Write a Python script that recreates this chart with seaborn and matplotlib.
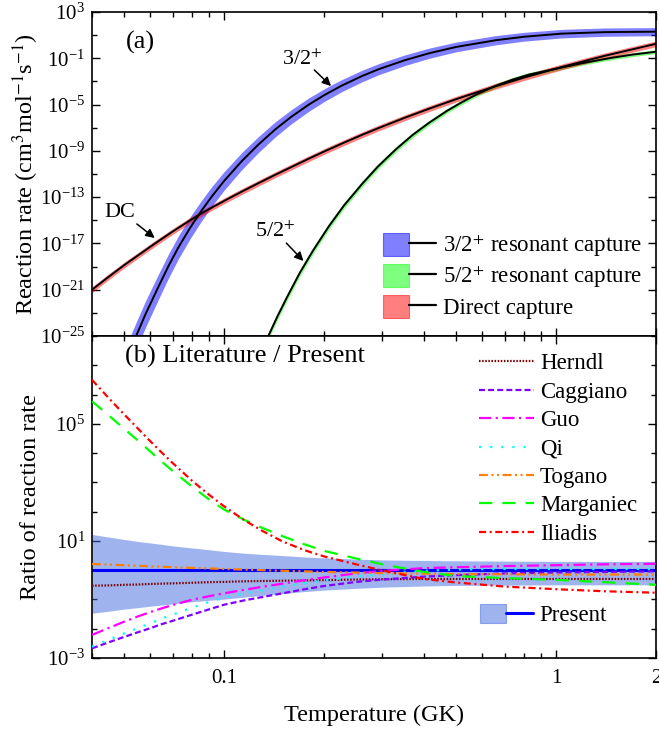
import numpy as np
import pandas as pd
import matplotlib
matplotlib.use("Agg")
import matplotlib.pyplot as plt
import seaborn as sns
from matplotlib.patches import Patch
from matplotlib.lines import Line2D
from matplotlib.legend_handler import HandlerTuple
from matplotlib.ticker import FixedLocator, FuncFormatter, LogLocator, NullFormatter

# ---------------- panel (a): log10 reaction rates ----------------
T_res32 = [0.052, 0.0546, 0.058, 0.0634, 0.068, 0.0728, 0.079, 0.0856, 0.092, 0.1, 0.113, 0.1267,
           0.1425, 0.1596, 0.18, 0.201, 0.2255, 0.26, 0.293, 0.35, 0.414, 0.5, 0.658, 0.8, 1.04, 1.4, 2.0]
log_res32 = [-26.3, -24.85, -23.1, -20.75, -18.95, -17.35, -15.65, -14.15, -12.91, -11.6, -9.89, -8.47,
             -7.15, -6.04, -5.0, -4.16, -3.38, -2.54, -1.93, -1.17, -0.57, -0.02, 0.56, 0.86, 1.13, 1.26, 1.3]
err_res32 = [1.2, 1.18, 1.14, 1.09, 1.04, 0.99, 0.94, 0.89, 0.85, 0.8, 0.74, 0.69,
             0.65, 0.61, 0.58, 0.55, 0.52, 0.5, 0.48, 0.46, 0.44, 0.42, 0.4, 0.38, 0.37, 0.36, 0.35]

T_res52 = [0.13, 0.1359, 0.145, 0.155, 0.169, 0.185, 0.207, 0.23, 0.26, 0.29, 0.33, 0.37, 0.414,
           0.47, 0.52, 0.58, 0.658, 0.74, 0.826, 0.93, 1.04, 1.2, 1.47, 1.7, 2.0]
log_res52 = [-26.3, -25.0, -23.26, -21.6, -19.55, -17.65, -15.5, -13.7, -11.88, -10.38, -8.84, -7.62, -6.58,
             -5.53, -4.8, -4.08, -3.38, -2.84, -2.42, -2.1, -1.8, -1.42, -0.96, -0.68, -0.43]
err_res52 = [0.3, 0.3, 0.3, 0.3, 0.29, 0.28, 0.27, 0.26, 0.25, 0.24, 0.23, 0.22, 0.21,
             0.2, 0.2, 0.19, 0.19, 0.18, 0.18, 0.18, 0.17, 0.17, 0.17, 0.17, 0.17]

T_dc = [0.04, 0.045, 0.0503, 0.056, 0.062, 0.07, 0.0785, 0.0856, 0.095, 0.105, 0.115, 0.1267, 0.1425,
        0.1596, 0.18, 0.2, 0.2255, 0.26, 0.293, 0.35, 0.414, 0.5, 0.658, 0.8, 1.04, 1.4, 2.0]
log_dc = [-21.0, -19.86, -18.82, -17.88, -16.99, -15.97, -15.05, -14.39, -13.67, -13.0, -12.41, -11.8, -11.07,
          -10.39, -9.67, -9.06, -8.39, -7.62, -7.01, -6.14, -5.36, -4.53, -3.41, -2.67, -1.75, -0.79, 0.25]
err_dc = [0.25, 0.25, 0.25, 0.25, 0.25, 0.25, 0.25, 0.25, 0.25, 0.25, 0.25, 0.25, 0.25,
          0.25, 0.25, 0.25, 0.25, 0.25, 0.25, 0.25, 0.25, 0.25, 0.25, 0.25, 0.25, 0.25, 0.25]

labels_a = ["3/2$^{+}$ resonant capture", "5/2$^{+}$ resonant capture", "Direct capture"]

# ---------------- panel (b): log10 ratio literature / present ----------------
T_ratio = [0.04, 0.045, 0.05, 0.055, 0.06, 0.065, 0.07, 0.08, 0.09, 0.1, 0.115, 0.13, 0.15, 0.175,
           0.2, 0.25, 0.3, 0.4, 0.5, 0.7, 1.0, 1.4, 2.0]
log_herndl = [-0.53, -0.52, -0.5, -0.49, -0.47, -0.46, -0.45, -0.43, -0.41, -0.4, -0.38, -0.37, -0.36, -0.35,
              -0.34, -0.32, -0.31, -0.3, -0.3, -0.3, -0.3, -0.3, -0.3]
log_caggiano = [-2.67, -2.46, -2.28, -2.12, -1.98, -1.84, -1.73, -1.52, -1.34, -1.18, -1.03, -0.92, -0.79, -0.65,
                -0.54, -0.4, -0.32, -0.22, -0.17, -0.11, -0.08, -0.06, -0.04]
log_guo = [-2.21, -1.97, -1.76, -1.58, -1.43, -1.3, -1.19, -1.01, -0.89, -0.79, -0.67, -0.57, -0.46, -0.34,
           -0.25, -0.11, -0.02, 0.07, 0.1, 0.14, 0.17, 0.2, 0.22]
log_qi = [-2.61, -2.37, -2.16, -1.98, -1.81, -1.65, -1.52, -1.28, -1.09, -0.94, -0.79, -0.69, -0.56, -0.44,
          -0.35, -0.22, -0.13, -0.02, 0.02, 0.04, 0.04, 0.04, 0.04]
log_togano = [0.21, 0.19, 0.17, 0.15, 0.13, 0.12, 0.1, 0.08, 0.06, 0.04, 0.02, 0.0, -0.02, -0.04,
              -0.06, -0.08, -0.1, -0.12, -0.13, -0.14, -0.15, -0.15, -0.15]
log_marganiec = [5.77, 5.28, 4.83, 4.43, 4.05, 3.7, 3.39, 2.86, 2.42, 2.07, 1.72, 1.45, 1.16, 0.88,
                 0.66, 0.4, 0.2, -0.06, -0.2, -0.27, -0.33, -0.41, -0.5]
log_iliadis = [6.5, 5.87, 5.32, 4.84, 4.4, 4.01, 3.66, 3.06, 2.58, 2.18, 1.71, 1.35, 0.98, 0.68,
               0.47, 0.2, -0.01, -0.3, -0.42, -0.56, -0.65, -0.72, -0.77]
log_present = [0.0] * 23
log_present_hi = [1.22, 1.13, 1.05, 0.98, 0.93, 0.88, 0.83, 0.76, 0.7, 0.64, 0.58, 0.54, 0.5, 0.45,
                  0.42, 0.38, 0.35, 0.33, 0.32, 0.31, 0.3, 0.3, 0.3]
log_present_lo = [-1.47, -1.4, -1.33, -1.28, -1.23, -1.19, -1.15, -1.08, -1.03, -0.99, -0.92, -0.86, -0.8, -0.73,
                  -0.68, -0.62, -0.58, -0.54, -0.52, -0.51, -0.5, -0.5, -0.5]

lit_names = ["Herndl", "Caggiano", "Guo", "Qi", "Togano", "Marganiec", "Iliadis"]
lit_values = [log_herndl, log_caggiano, log_guo, log_qi, log_togano, log_marganiec, log_iliadis]

# ---------------- styling ----------------
sns.set_theme(style="ticks")
plt.rcParams["font.family"] = ["Liberation Serif", "DejaVu Serif"]
plt.rcParams["mathtext.fontset"] = "stix"
for k in ["text.color", "axes.labelcolor", "xtick.color", "ytick.color", "axes.edgecolor"]:
    plt.rcParams[k] = "black"
plt.rcParams["axes.linewidth"] = 1.2

lit_colors = ["#800000", "#8000FF", "#FF00FF", "#00FFFF", "#FF8000", "#00FF00", "#FF0000"]
lit_dashes = [(0.7, 0.7), (2.7, 1.4), (5.5, 2.0, 1.0, 2.0), (1.0, 4.0),
              (4.0, 1.6, 0.9, 1.6, 0.9, 1.6), (6.0, 4.5), (3.2, 1.6, 0.9, 1.6)]
band_colors = ["#0000FF", "#00FF00", "#FF0000"]

W, H = 659, 736
fig = plt.figure(figsize=(W / 100, H / 100), dpi=100)
ax1 = fig.add_axes([92 / W, 400 / H, 564 / W, 324 / H])
ax2 = fig.add_axes([92 / W, 78 / H, 564 / W, 322 / H], sharex=ax1)

for ax in (ax1, ax2):
    ax.set_xscale("log")
    ax.set_yscale("log")

# ---- panel (a) ----
series_a = [(T_res32, log_res32, err_res32), (T_res52, log_res52, err_res52), (T_dc, log_dc, err_dc)]
for (T, lv, e), c in zip(series_a, band_colors):
    T = np.asarray(T); lv = np.asarray(lv); e = np.asarray(e)
    ax1.fill_between(T, 10 ** (lv - e), 10 ** (lv + e), color=c, alpha=0.5, lw=0, zorder=1)
for (T, lv, e) in series_a:
    df = pd.DataFrame({"T": T, "rate": 10 ** np.asarray(lv)})
    sns.lineplot(data=df, x="T", y="rate", color="black", lw=1.4, ax=ax1, sort=False,
                 estimator=None, legend=False, zorder=3)

ax1.set_xlim(0.04, 2)
ax1.set_ylim(1e-25, 1e3)

handles_a = []
for c in band_colors:
    handles_a.append((Patch(facecolor=c, alpha=0.5, edgecolor=c, lw=0.8),
                      Line2D([], [], color="black", lw=1.6)))
ax1.legend(handles_a, labels_a, handler_map={tuple: HandlerTuple(ndivide=None)},
           loc="upper left", bbox_to_anchor=(0.516, 0.318), frameon=False, fontsize=16.5,
           handlelength=2.3, handleheight=1.15, handletextpad=0.3, labelspacing=0.22,
           borderpad=0, borderaxespad=0)

arrow_kw = dict(arrowstyle="-|>", color="black", lw=1.1, mutation_scale=13, shrinkA=0, shrinkB=0)
ax1.text(0.172, 10 ** -1.15, "3/2$^{+}$", fontsize=16, ha="center", va="center")
ax1.annotate("", xy=(0.210, 10 ** -3.40), xytext=(0.187, 10 ** -2.01), arrowprops=arrow_kw)
ax1.text(0.0486, 10 ** -14.37, "DC", fontsize=16, ha="center", va="center")
ax1.annotate("", xy=(0.0618, 10 ** -16.53), xytext=(0.0546, 10 ** -15.32), arrowprops=arrow_kw)
ax1.text(0.143, 10 ** -16.0, "5/2$^{+}$", fontsize=16, ha="center", va="center")
ax1.annotate("", xy=(0.1734, 10 ** -18.52), xytext=(0.154, 10 ** -16.97), arrowprops=arrow_kw)
ax1.text(0.085, 0.907, "(a)", transform=ax1.transAxes, fontsize=19, ha="center", va="center")

# ---- panel (b) ----
Tr = np.asarray(T_ratio)
ax2.fill_between(Tr, 10 ** np.asarray(log_present_lo), 10 ** np.asarray(log_present_hi),
                 color="royalblue", alpha=0.5, lw=0, zorder=1)
sns.lineplot(x=Tr, y=10 ** np.asarray(log_present), color="blue", lw=2.2, ax=ax2,
             estimator=None, legend=False, zorder=2)
lit_lines = []
for name, vals, c, d in zip(lit_names, lit_values, lit_colors, lit_dashes):
    df = pd.DataFrame({"T": Tr, "ratio": 10 ** np.asarray(vals)})
    sns.lineplot(data=df, x="T", y="ratio", color=c, lw=1.6, ax=ax2, sort=False,
                 estimator=None, legend=False, zorder=3)
    ln = ax2.lines[-1]
    ln.set_linestyle((0, d))
    ln.set_label(name)
    lit_lines.append(ln)

ax2.set_xlim(0.04, 2)
ax2.set_ylim(1e-3, 1e8)

leg_b = ax2.legend(lit_lines, lit_names, loc="upper left", bbox_to_anchor=(0.686, 0.946),
                   frameon=False, fontsize=16.5, handlelength=2.4, handletextpad=0.26,
                   labelspacing=0.32, borderpad=0, borderaxespad=0)
ax2.add_artist(leg_b)
present_handle = (Patch(facecolor="royalblue", alpha=0.5, edgecolor="royalblue", lw=0.8),
                  Line2D([], [], color="blue", lw=2.2))
ax2.legend([present_handle], ["Present"], handler_map={tuple: HandlerTuple(ndivide=None)},
           loc="upper left", bbox_to_anchor=(0.688, 0.168), frameon=False, fontsize=16.5,
           handlelength=2.3, handleheight=0.9, handletextpad=0.3, borderpad=0, borderaxespad=0)
ax2.text(0.0585, 0.935, "(b) Literature / Present", transform=ax2.transAxes, fontsize=19,
         ha="left", va="center")

# ---- axes, ticks ----
pow_fmt = FuncFormatter(lambda v, p: r"$\mathregular{10^{%d}}$" % int(round(np.log10(v))))
ax1.yaxis.set_major_locator(FixedLocator([10.0 ** k for k in range(3, -26, -4)]))
ax1.yaxis.set_minor_locator(FixedLocator([10.0 ** k for k in range(1, -26, -4)]))
ax2.yaxis.set_major_locator(FixedLocator([10.0 ** k for k in (-3, 1, 5)]))
ax2.yaxis.set_minor_locator(FixedLocator([10.0 ** k for k in range(-3, 9) if k not in (-3, 1, 5)]))
for ax in (ax1, ax2):
    ax.yaxis.set_major_formatter(pow_fmt)
    ax.yaxis.set_minor_formatter(NullFormatter())
    ax.xaxis.set_major_locator(FixedLocator([0.1, 1, 2]))
    ax.xaxis.set_minor_locator(LogLocator(base=10, subs=np.arange(2, 10), numticks=20))
    ax.xaxis.set_minor_formatter(NullFormatter())
    ax.tick_params(which="both", direction="in", top=True, right=True, labelsize=15, width=1.0)
    ax.tick_params(which="major", length=6)
    ax.tick_params(which="minor", length=3.5)
    ax.tick_params(axis="y", pad=5)
    ax.tick_params(axis="x", pad=8)
    for s in ax.spines.values():
        s.set_linewidth(1.2)
        s.set_color("black")
    ax.set_xlabel("")
    ax.set_ylabel("")

ax2.xaxis.set_major_formatter(FuncFormatter(lambda v, p: {0.1: "0.1", 1: "1", 2: "2"}.get(round(v, 3), "")))
ax1.tick_params(axis="x", labelbottom=False)

ax1.set_ylabel("Reaction rate (cm$^{3}$mol$^{-1}$s$^{-1}$)", fontsize=17.5)
ax2.set_ylabel("Ratio of reaction rate", fontsize=17.5)
ax2.set_xlabel("Temperature (GK)", fontsize=17.5)
ax1.yaxis.set_label_coords(-0.09, 0.5)
ax2.yaxis.set_label_coords(-0.09, 0.5)
ax2.xaxis.set_label_coords(0.5, -0.146)

fig.savefig("out.png", dpi=100)
